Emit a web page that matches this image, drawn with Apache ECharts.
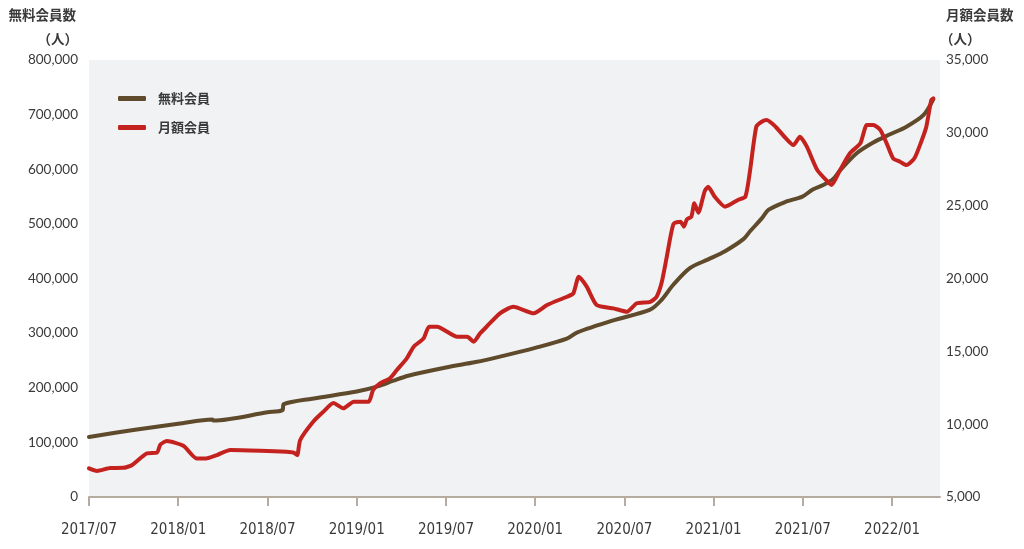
<!DOCTYPE html>
<html>
<head>
<meta charset="utf-8">
<script src="https://cdn.jsdelivr.net/npm/echarts@6/dist/echarts.min.js"></script>
<style>
html,body{margin:0;padding:0;background:#fff;}
#chart{width:1024px;height:549px;}
</style>
</head>
<body>
<div id="chart"></div>
<script>
// ---- data ----
const seriesNames = ['無料会員', '月額会員'];
const xTickLabels = ['2017/07','2018/01','2018/07','2019/01','2019/07','2020/01','2020/07','2021/01','2021/07','2022/01'];

const freeDates = ['2017-07-01','2017-10-04','2018-01-01','2018-03-10','2018-03-12','2018-07-01','2018-08-01','2018-08-04','2018-10-01','2019-01-01','2019-02-15','2019-03-15','2019-04-15','2019-07-01','2019-09-01','2019-10-20','2020-01-01','2020-03-05','2020-03-25','2020-06-07','2020-08-23','2020-09-16','2020-10-10','2020-11-13','2020-12-20','2021-01-24','2021-03-01','2021-03-14','2021-04-08','2021-04-22','2021-05-28','2021-06-30','2021-07-21','2021-08-12','2021-09-02','2021-09-16','2021-10-19','2021-11-23','2021-12-27','2022-01-30','2022-03-04','2022-03-24'];
const freeValues = [110000,123000,134000,142000,140000,155000,159000,170000,180000,193000,203000,213000,222000,237000,247000,257000,273000,290000,301000,323000,343000,361000,389000,419000,435000,450000,472000,486000,510000,526000,541000,550000,563000,571000,582000,598000,629000,649000,664000,678000,699000,728000];

const paidDates = ['2017-07-01','2017-07-17','2017-08-14','2017-09-10','2017-09-28','2017-10-28','2017-11-18','2017-11-25','2017-12-08','2018-01-12','2018-02-08','2018-02-27','2018-03-19','2018-04-16','2018-06-16','2018-08-09','2018-08-24','2018-08-31','2018-09-07','2018-10-04','2018-10-24','2018-11-14','2018-12-04','2018-12-25','2019-01-25','2019-02-04','2019-02-18','2019-03-08','2019-03-22','2019-04-12','2019-04-26','2019-05-16','2019-05-27','2019-06-13','2019-07-24','2019-08-14','2019-08-27','2019-09-10','2019-09-23','2019-10-20','2019-11-17','2019-12-28','2020-01-25','2020-03-05','2020-03-18','2020-03-29','2020-04-15','2020-05-05','2020-06-09','2020-07-06','2020-07-26','2020-08-23','2020-09-06','2020-09-16','2020-09-26','2020-10-10','2020-10-24','2020-10-31','2020-11-07','2020-11-16','2020-11-22','2020-11-30','2020-12-13','2020-12-20','2021-01-03','2021-01-24','2021-02-20','2021-03-05','2021-03-14','2021-03-27','2021-04-08','2021-04-18','2021-05-06','2021-05-22','2021-06-12','2021-06-25','2021-07-09','2021-07-30','2021-08-24','2021-08-29','2021-09-16','2021-10-06','2021-10-27','2021-11-10','2021-11-23','2021-12-07','2021-12-20','2022-01-03','2022-01-17','2022-01-30','2022-02-16','2022-03-01','2022-03-10','2022-03-20','2022-03-24'];
const paidValues = [6970,6790,6990,7000,7200,8000,8040,8600,8845,8500,7650,7650,7880,8230,8180,8100,8040,7880,8910,10200,10860,11450,11090,11540,11540,12350,12800,13150,13720,14520,15320,15890,16690,16690,16000,16000,15660,16240,16690,17610,18060,17610,18180,18750,18980,20120,19440,18180,17950,17720,18300,18400,18750,19700,21400,23750,23900,23560,24060,24240,25160,24520,26000,26300,25620,24930,25390,25620,27300,30420,30760,30880,30420,29800,29160,29730,29050,27450,26540,26420,27450,28600,29280,30540,30540,30200,29280,28250,28020,27790,28250,29510,30420,32250,32370];

// ---- helpers ----
function toMonth(s){
  const p = s.split('-').map(Number);
  return (p[0]-2017)*12 + (p[1]-7) + (p[2]-1)/30;
}
function pairs(dates, vals){ return dates.map((d,i)=>[toMonth(d), vals[i]]); }
const tickMonths = xTickLabels.map(l => { const p=l.split('/').map(Number); return (p[0]-2017)*12 + (p[1]-7); });
function labelFor(v){
  const i = tickMonths.findIndex(t => Math.abs(t - v) < 1e-6);
  return i >= 0 ? xTickLabels[i] : '';
}

const BROWN = '#5f4a2c';
const RED = '#c3221f';
const TXT = '#3a3a3a';

const chart = echarts.init(document.getElementById('chart'), null, {renderer:'canvas'});
chart.setOption({
  animation: false,
  backgroundColor: '#ffffff',
  grid: {left: 89, right: 84, top: 60, bottom: 52, show: true, backgroundColor: '#f1f2f4', borderWidth: 0},
  legend: {
    orient: 'vertical', left: 113, top: 87, itemGap: 16,
    icon: 'roundRect', itemWidth: 28, itemHeight: 5,
    textStyle: {fontSize: 13, color: TXT, fontWeight: 'bold', fontFamily: 'Noto Sans CJK JP', padding: [0,0,0,7]},
    data: seriesNames
  },
  xAxis: {
    type: 'value', min: 0, max: 57.22, interval: 6,
    splitLine: {show: false},
    axisLine: {show: true, lineStyle: {color: '#b5ab9e', width: 2}},
    axisTick: {show: true, inside: false, length: 9, lineStyle: {color: '#b5ab9e', width: 2}, customValues: tickMonths},
    axisLabel: {margin: 26, fontSize: 15, color: TXT, fontFamily: "'Liberation Sans Narrow', 'DejaVu Sans Condensed', sans-serif", customValues: tickMonths, formatter: labelFor}
  },
  yAxis: [
    {type: 'value', min: 0, max: 800000, interval: 100000, position: 'left',
     splitLine: {show: false}, axisLine: {show: false}, axisTick: {show: false},
     axisLabel: {margin: 11, fontSize: 13.5, color: TXT, fontFamily: 'Lato', formatter: v => v.toLocaleString('en-US')}},
    {type: 'value', min: 5000, max: 35000, interval: 5000, position: 'right',
     splitLine: {show: false}, axisLine: {show: false}, axisTick: {show: false},
     axisLabel: {margin: 6, fontSize: 13.5, color: TXT, fontFamily: 'Lato', formatter: v => v.toLocaleString('en-US')}}
  ],
  graphic: [
    {type: 'text', right: 1024-76, top: 8, style: {text: '無料会員数', font: 'bold 13.5px "Noto Sans CJK JP"', fill: TXT}},
    {type: 'text', right: 1024-78, top: 32, style: {text: '（人）', font: 'bold 13.5px "Noto Sans CJK JP"', fill: TXT}},
    {type: 'text', left: 946, top: 8, style: {text: '月額会員数', font: 'bold 13.5px "Noto Sans CJK JP"', fill: TXT}},
    {type: 'text', left: 940, top: 32, style: {text: '（人）', font: 'bold 13.5px "Noto Sans CJK JP"', fill: TXT}}
  ],
  series: [
    {name: seriesNames[0], type: 'line', yAxisIndex: 0, data: pairs(freeDates, freeValues),
     showSymbol: false, smooth: 0.3, color: BROWN,
     lineStyle: {width: 4, color: BROWN, cap: 'round', join: 'round'}},
    {name: seriesNames[1], type: 'line', yAxisIndex: 1, data: pairs(paidDates, paidValues),
     showSymbol: false, smooth: 0.2, color: RED,
     lineStyle: {width: 4, color: RED, cap: 'round', join: 'round'}}
  ]
});
</script>
</body>
</html>
